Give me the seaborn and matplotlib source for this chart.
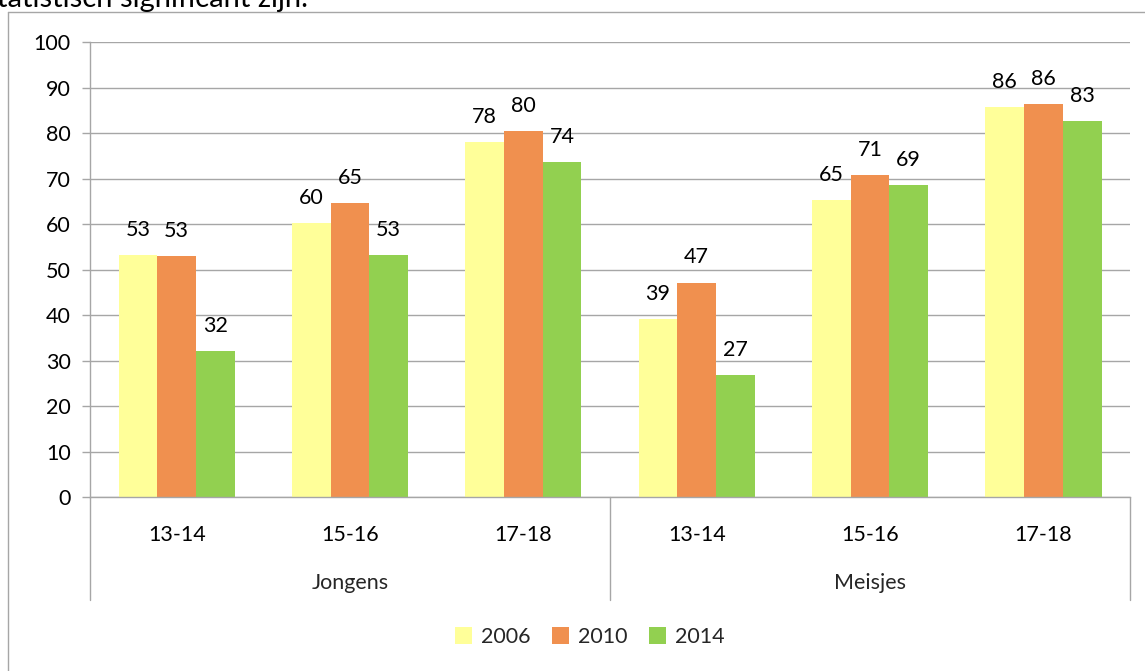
import pandas as pd
import numpy as np
import matplotlib.pyplot as plt
import matplotlib.transforms as mtransforms
from matplotlib.lines import Line2D
import seaborn as sns

# data
groups = ['Jongens', 'Jongens', 'Jongens', 'Meisjes', 'Meisjes', 'Meisjes']
ages = ['13-14', '15-16', '17-18', '13-14', '15-16', '17-18']
years = ['2006', '2010', '2014']
val_2006 = [53.2, 60.2, 78.0, 39.1, 65.3, 85.7]
val_2010 = [53.0, 64.6, 80.4, 47.1, 70.8, 86.4]
val_2014 = [32.1, 53.2, 73.6, 26.8, 68.6, 82.6]
colors = ['#FFFF99', '#F0904F', '#92D050']

rows = []
for i in range(len(ages)):
    cat = groups[i] + ' ' + ages[i]
    for y, vals in zip(years, [val_2006, val_2010, val_2014]):
        rows.append({'cat': cat, 'year': y, 'value': vals[i]})
df = pd.DataFrame(rows)

sns.set_style('white')
plt.rcParams['font.family'] = ['Lato', 'DejaVu Sans']
fs = 15.5
grey = '#A6A6A6'

fig = plt.figure(figsize=(11.45, 6.71), dpi=100)
ax = fig.add_axes([0.0786, 0.2593, 0.9084, 0.6781])

sns.barplot(data=df, x='cat', y='value', hue='year', palette=colors,
            width=0.67, saturation=1, ax=ax, edgecolor='none')

for c in ax.containers:
    ax.bar_label(c, fmt='%.0f', padding=11, fontsize=fs, color='black')

ax.set_xlim(-0.5, 5.5)
ax.set_ylim(0, 100)
ax.set_yticks(np.arange(0, 101, 10))
ax.yaxis.grid(True, color=grey, linewidth=1)
ax.set_axisbelow(True)
ax.tick_params(axis='y', left=True, length=6, width=1, color=grey,
               labelsize=fs, labelcolor='black', pad=8)
ax.tick_params(axis='x', bottom=False, labelsize=fs, labelcolor='black', pad=17)
ax.set_xticks(range(len(ages)))
ax.set_xticklabels(ages)
ax.set_xlabel('')
ax.set_ylabel('')
for s in ['top', 'right']:
    ax.spines[s].set_visible(False)
for s in ['left', 'bottom']:
    ax.spines[s].set_color(grey)
    ax.spines[s].set_linewidth(1)

# second level of the category axis
trans = mtransforms.blended_transform_factory(ax.transData, ax.transAxes)
for xs in [-0.5, 2.5, 5.5]:
    ax.plot([xs, xs], [0, -0.227], transform=trans, color=grey, lw=1, clip_on=False)
ax.text(1, -0.19, 'Jongens', transform=trans, ha='center', va='center', fontsize=fs)
ax.text(4, -0.19, 'Meisjes', transform=trans, ha='center', va='center', fontsize=fs)

ax.get_legend().remove()
handles, labels = ax.get_legend_handles_labels()
fig.legend(handles, labels, ncol=3, loc='center', bbox_to_anchor=(0.515, 0.0507),
           frameon=False, fontsize=fs, handlelength=0.8, handleheight=0.8,
           handletextpad=0.4, columnspacing=1.0)

# chart area frame and the cut-off text above it
fig.add_artist(Line2D([8 / 1145, 8 / 1145], [0, 1 - 12 / 671], color=grey, lw=1))
fig.add_artist(Line2D([8 / 1145, 1], [1 - 12 / 671, 1 - 12 / 671], color=grey, lw=1))
fig.text(-0.003, 1 - 7 / 671, 'tatistisch significant zijn.', fontsize=21,
         ha='left', va='baseline', color='black')

fig.savefig('out.png', dpi=100)
